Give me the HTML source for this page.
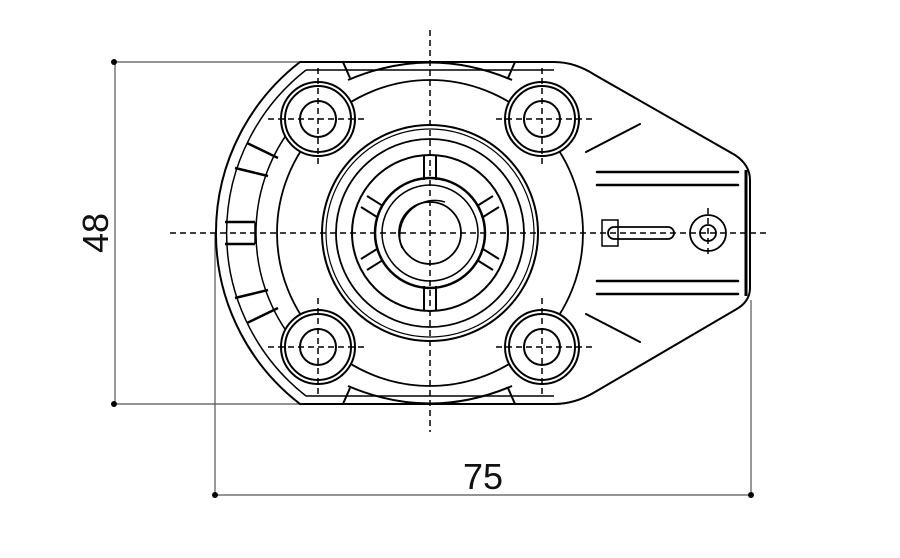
<!DOCTYPE html>
<html><head><meta charset="utf-8"><style>html,body{margin:0;padding:0;background:#fff}svg{display:block}</style></head>
<body>
<svg width="900" height="558" viewBox="0 0 900 558" xmlns="http://www.w3.org/2000/svg">
<g fill="none" stroke="#000">
<g stroke="#555" stroke-width="1.2">
<line x1="113" y1="62" x2="300" y2="62"/>
<line x1="113" y1="404" x2="300" y2="404"/>
<line x1="115" y1="62" x2="115" y2="404"/>
<line x1="215" y1="233" x2="215" y2="495"/>
<line x1="751" y1="300" x2="751" y2="495"/>
<line x1="215" y1="495" x2="751" y2="495"/>
</g>
<g fill="#000" stroke="none">
<circle cx="114" cy="62" r="3"/><circle cx="114" cy="404" r="3"/>
<circle cx="215" cy="495" r="3"/><circle cx="751" cy="495" r="3"/>
</g>
<g stroke-width="2">
<path d="M300,62 L554,62 Q575,62 595,75 L735,155 Q750,165 750,180 L750,288 Q750,302 735,310 L595,392 Q575,404 554,404 L300,404 A216,216 0 0 1 300,62 Z"/>
<path d="M306,70 L554,70 M306,396 L554,396" stroke-width="1.5"/>
<path d="M306,70 A207,207 0 0 0 306,396" stroke-width="1.5"/>
<path d="M746,170 L746,296" stroke-width="3"/>
<path d="M289,131 A174,174 0 0 0 289,335" stroke-width="1.5"/>
<circle cx="430" cy="233" r="153" stroke-width="1.8"/>
<circle cx="430" cy="233" r="108" stroke-width="2"/>
<circle cx="430" cy="233" r="104" stroke-width="1.2"/>
<circle cx="430" cy="233" r="94" stroke-width="1.8"/>
<circle cx="430" cy="233" r="78" stroke-width="2"/>
<circle cx="430" cy="233" r="55" stroke-width="2.5"/>
<circle cx="430" cy="233" r="48" stroke-width="1.5"/>
<circle cx="430" cy="233" r="31" stroke-width="1.8"/>
<path d="M402,248 A35,35 0 0 1 445,202" stroke-width="1.5"/>
</g>
<g stroke-width="2">
<line x1="424" y1="156" x2="424" y2="180"/><line x1="436" y1="156" x2="436" y2="180"/>
<line x1="424" y1="286" x2="424" y2="310"/><line x1="436" y1="286" x2="436" y2="310"/>
<g id="sp"><line x1="367" y1="196" x2="383" y2="206"/><line x1="361" y1="207" x2="377" y2="217"/></g>
<use href="#sp" transform="translate(860,0) scale(-1,1)"/>
<use href="#sp" transform="translate(0,466) scale(1,-1)"/>
<use href="#sp" transform="translate(860,466) scale(-1,-1)"/>
</g>
<g stroke-width="2.5">
<line x1="247" y1="143" x2="278" y2="158"/>
<line x1="235" y1="168" x2="268" y2="176"/>
<line x1="225" y1="222" x2="255" y2="222"/>
<line x1="225" y1="244" x2="255" y2="244"/>
<line x1="235" y1="298" x2="268" y2="290"/>
<line x1="247" y1="323" x2="278" y2="308"/>
<path d="M255,222 L255,244" stroke-width="1.5"/>
</g>
<g stroke-width="2">
<circle cx="318" cy="119" r="37" fill="#fff"/><circle cx="318" cy="119" r="33"/><circle cx="318" cy="119" r="18"/>
<circle cx="542" cy="119" r="37" fill="#fff"/><circle cx="542" cy="119" r="33"/><circle cx="542" cy="119" r="18"/>
<circle cx="318" cy="347" r="37" fill="#fff"/><circle cx="318" cy="347" r="33"/><circle cx="318" cy="347" r="18"/>
<circle cx="542" cy="347" r="37" fill="#fff"/><circle cx="542" cy="347" r="33"/><circle cx="542" cy="347" r="18"/>
</g>
<g stroke-width="2">
<line x1="343" y1="62" x2="350" y2="78"/><line x1="515" y1="62" x2="508" y2="78"/>
<line x1="343" y1="404" x2="350" y2="388"/><line x1="515" y1="404" x2="508" y2="388"/>
<path d="M348,80 Q430,45 512,80"/><path d="M348,386 Q430,421 512,386"/>
</g>
<g stroke-width="2.5" stroke-linecap="round">
<line x1="597" y1="172" x2="738" y2="172"/><line x1="597" y1="185" x2="738" y2="185"/>
<line x1="597" y1="281" x2="738" y2="281"/><line x1="597" y1="294" x2="738" y2="294"/>
<line x1="586" y1="152" x2="640" y2="124" stroke-width="2"/>
<line x1="586" y1="314" x2="640" y2="342" stroke-width="2"/>
</g>
<rect x="608" y="227" width="66" height="12" rx="6" stroke-width="1.8"/>
<rect x="602" y="220" width="16" height="26" stroke-width="1.5"/>
<circle cx="708" cy="233" r="18" stroke-width="1.8"/>
<circle cx="708" cy="233" r="8" stroke-width="1.8"/>
<g stroke-width="1.5" stroke-dasharray="6,4">
<line x1="170" y1="233" x2="768" y2="233"/>
<line x1="430" y1="30" x2="430" y2="432"/>
<line x1="268" y1="119" x2="364" y2="119"/><line x1="318" y1="68" x2="318" y2="168"/>
<line x1="496" y1="119" x2="592" y2="119"/><line x1="542" y1="68" x2="542" y2="168"/>
<line x1="268" y1="347" x2="364" y2="347"/><line x1="318" y1="298" x2="318" y2="398"/>
<line x1="496" y1="347" x2="592" y2="347"/><line x1="542" y1="298" x2="542" y2="398"/>
<line x1="708" y1="208" x2="708" y2="258"/>
</g>
</g>
<text x="483" y="489" font-family="Liberation Sans, sans-serif" font-size="36" text-anchor="middle" fill="#111">75</text>
<text transform="translate(108,233) rotate(-90)" font-family="Liberation Sans, sans-serif" font-size="36" text-anchor="middle" fill="#111">48</text>
</svg>
</body></html>
